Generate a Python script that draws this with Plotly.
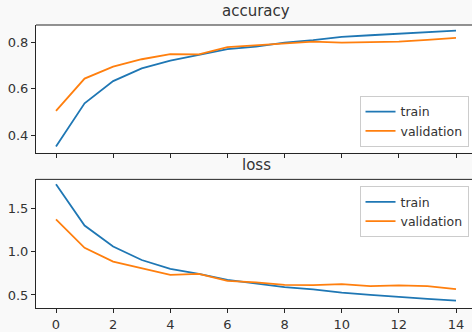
import plotly.graph_objects as go

epochs = list(range(15))
acc_train = [0.351, 0.537, 0.632, 0.687, 0.720, 0.746, 0.769, 0.780, 0.797, 0.808, 0.822, 0.829, 0.836, 0.842, 0.849]
acc_val = [0.504, 0.643, 0.694, 0.726, 0.748, 0.747, 0.778, 0.786, 0.797, 0.802, 0.797, 0.800, 0.802, 0.809, 0.818]
loss_train = [1.773, 1.299, 1.057, 0.902, 0.799, 0.742, 0.674, 0.636, 0.591, 0.565, 0.526, 0.500, 0.474, 0.455, 0.435]
loss_val = [1.371, 1.042, 0.883, 0.810, 0.731, 0.742, 0.663, 0.644, 0.617, 0.614, 0.625, 0.602, 0.610, 0.602, 0.568]
x_ticks = [0, 2, 4, 6, 8, 10, 12, 14]

BLUE = "#1f77b4"
ORANGE = "#ff7f0e"
FONT = "DejaVu Sans"
TXT = "#333333"

fig = go.Figure()
fig.add_trace(go.Scatter(x=epochs, y=acc_train, mode="lines", name="train",
                         line=dict(color=BLUE, width=1.8), xaxis="x", yaxis="y", legend="legend"))
fig.add_trace(go.Scatter(x=epochs, y=acc_val, mode="lines", name="validation",
                         line=dict(color=ORANGE, width=1.8), xaxis="x", yaxis="y", legend="legend"))
fig.add_trace(go.Scatter(x=epochs, y=loss_train, mode="lines", name="train",
                         line=dict(color=BLUE, width=1.8), xaxis="x2", yaxis="y2", legend="legend2"))
fig.add_trace(go.Scatter(x=epochs, y=loss_val, mode="lines", name="validation",
                         line=dict(color=ORANGE, width=1.8), xaxis="x2", yaxis="y2", legend="legend2"))

axis_common = dict(showgrid=False, zeroline=False, showline=True, linecolor="#262626", linewidth=1,
                   ticks="outside", ticklen=4, tickcolor="#262626", tickwidth=1,
                   tickfont=dict(family=FONT, size=13, color=TXT))

xr = [-0.7, 14.56]
legend_common = dict(bgcolor="rgba(255,255,255,0.85)", bordercolor="#cccccc", borderwidth=1,
                     font=dict(family=FONT, size=12.5, color=TXT), xanchor="right",
                     itemwidth=30, tracegroupgap=0)

fig.update_layout(
    width=472, height=332,
    margin=dict(l=36, r=0, t=25, b=21),
    paper_bgcolor="#f9f9f9", plot_bgcolor="#ffffff",
    font=dict(family=FONT, color=TXT),
    xaxis=dict(domain=[0, 1], range=xr, anchor="y", tickvals=x_ticks, showticklabels=False,
               mirror=False, **axis_common),
    yaxis=dict(domain=[0.549, 1.0], range=[0.325, 0.873], anchor="x", tickvals=[0.4, 0.6, 0.8],
               ticktext=["0.4", "0.6", "0.8"], **axis_common),
    xaxis2=dict(domain=[0, 1], range=xr, anchor="y2", tickvals=x_ticks, **axis_common),
    yaxis2=dict(domain=[0, 0.4545], range=[0.35, 1.83], anchor="x2", tickvals=[0.5, 1.0, 1.5],
                ticktext=["0.5", "1.0", "1.5"], **axis_common),
    legend=dict(x=0.992, y=0.569, yanchor="bottom", **legend_common),
    legend2=dict(x=0.992, y=0.43, yanchor="top", **legend_common),
    showlegend=True,
)

# top spines
fig.add_shape(type="line", xref="x domain", yref="y domain", x0=0, x1=1, y0=1, y1=1,
              line=dict(color="#262626", width=1))
fig.add_shape(type="line", xref="x2 domain", yref="y2 domain", x0=0, x1=1, y0=1, y1=1,
              line=dict(color="#262626", width=1))

fig.add_annotation(text="accuracy", xref="paper", yref="paper", x=0.505, y=1.0, yshift=3,
                   xanchor="center", yanchor="bottom", showarrow=False,
                   font=dict(family=FONT, size=15, color=TXT))
fig.add_annotation(text="loss", xref="paper", yref="paper", x=0.505, y=0.4545, yshift=3,
                   xanchor="center", yanchor="bottom", showarrow=False,
                   font=dict(family=FONT, size=15, color=TXT))

fig.write_html("out.html")
